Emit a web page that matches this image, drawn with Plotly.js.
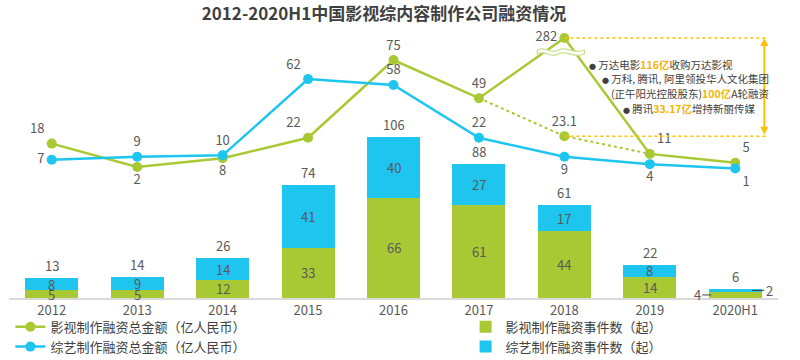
<!DOCTYPE html>
<html><head><meta charset="utf-8">
<script src="https://cdn.plot.ly/plotly-3.0.1.min.js"></script>
<style>html,body{margin:0;padding:0;background:#fff}#chart{width:800px;height:360px}</style>
</head><body><div id="chart"></div>
<script>
const years = ['2012','2013','2014','2015','2016','2017','2018','2019','2020H1'];
const filmCount = [5,5,12,33,66,61,44,14,4];
const varietyCount = [8,9,14,41,40,27,17,8,2];
const filmAmount = [18,2,8,22,75,49,282,11,5];
const varietyAmount = [7,9,10,62,58,22,9,4,1];
const filmAmountExcl = [null,null,null,null,null,49,23.1,11,null];
const breakCap = 90;

const GREEN = '#a9c934', BLUE = '#1ec5ef', GOLD = '#ffc000', TXT = '#595959';
const FONT = '"Noto Sans CJK SC", "Noto Sans", sans-serif';
const xi = years.map((_,i)=>i);
const totals = filmCount.map((v,i)=>v+varietyCount[i]);
const filmDisplay = filmAmount.map(v=>Math.min(v,breakCap));
const i2018 = years.indexOf('2018');

const traces = [
 {type:'bar', name:'影视制作融资事件数（起）', x:xi, y:filmCount, marker:{color:GREEN}, legend:'legend2', legendgroup:'a', hoverinfo:'skip'},
 {type:'bar', name:'综艺制作融资事件数（起）', x:xi, y:varietyCount, marker:{color:BLUE}, legend:'legend2', legendgroup:'b', hoverinfo:'skip'},
 {type:'scatter', mode:'lines', x:xi, y:filmAmountExcl, yaxis:'y2', showlegend:false,
  line:{color:GREEN, width:2, dash:'dot'}, hoverinfo:'skip', connectgaps:false},
 {type:'scatter', mode:'lines+markers+text', name:'影视制作融资总金额（亿人民币）', x:xi, y:filmDisplay, yaxis:'y2', legendgroup:'c',
  text:filmAmount.map(String), textposition:['top left','bottom center','bottom center','top left','top center','top center','middle left','top right','top right'],
  textfont:{color:TXT,size:13,family:FONT}, line:{color:GREEN,width:2.5}, marker:{color:GREEN,size:10}, hoverinfo:'skip', cliponaxis:false},
 {type:'scatter', mode:'markers+text', x:xi, y:filmAmountExcl.map((v,i)=>i===i2018?v:null), yaxis:'y2', showlegend:false,
  text:filmAmountExcl.map((v,i)=>i===i2018?String(v):''), textposition:'top center',
  textfont:{color:TXT,size:13,family:FONT}, marker:{color:GREEN,size:10}, hoverinfo:'skip', cliponaxis:false},
 {type:'scatter', mode:'lines+markers+text', name:'综艺制作融资总金额（亿人民币）', x:xi, y:varietyAmount, yaxis:'y2', legendgroup:'d',
  text:varietyAmount.map(String), textposition:['middle left','top center','top center','top left','top center','top center','bottom center','bottom center','bottom right'],
  textfont:{color:TXT,size:13,family:FONT}, line:{color:BLUE,width:2.5}, marker:{color:BLUE,size:10}, hoverinfo:'skip', cliponaxis:false}
];

const annotations = [];
const last = years.length-1;
xi.forEach((x,i)=>{
  annotations.push({x, y:totals[i], yref:'y', text:String(totals[i]), showarrow:false, yanchor:'bottom', yshift:1, font:{color:TXT,size:13,family:FONT}});
  if(i!==last){
    annotations.push({x, y:filmCount[i]/2, yref:'y', text:String(filmCount[i]), showarrow:false, font:{color:TXT,size:13,family:FONT}});
    annotations.push({x, y:filmCount[i]+varietyCount[i]/2, yref:'y', text:String(varietyCount[i]), showarrow:false, font:{color:TXT,size:13,family:FONT}});
  }
});
annotations.push({x:last, y:filmCount[last]/2, yref:'y', text:String(filmCount[last]), showarrow:true, arrowhead:0, arrowwidth:1, arrowcolor:'#404040', ax:-38, ay:0, standoff:24, font:{color:TXT,size:13,family:FONT}});
annotations.push({x:last, y:filmCount[last]+varietyCount[last]/2, yref:'y', text:String(varietyCount[last]), showarrow:true, arrowhead:0, arrowwidth:1, arrowcolor:'#404040', ax:34, ay:0, standoff:17, font:{color:TXT,size:13,family:FONT}});

// double arrow between 282 (break) and 23.1
annotations.push({x:8.34, y:breakCap, xref:'x', yref:'y2', ax:8.34, ay:filmAmountExcl[i2018], axref:'x', ayref:'y2', showarrow:true, arrowhead:2, startarrowhead:2, arrowside:'end+start', arrowcolor:GOLD, arrowwidth:2, arrowsize:0.8, startarrowsize:0.8, text:''});

const dot = '<span style="font-size:7px;color:#404040">●</span> ';
const hi = s => '<b style="color:#f5b400">'+s+'</b>';
const notes = [
 {x:6.27, y:72.3, t:dot+'万达电影'+hi('116亿')+'收购万达影视'},
 {x:6.42, y:62.1, t:dot+'万科, 腾讯, 阿里领投华人文化集团'},
 {x:6.52, y:52.5, t:'(正午阳光控股股东)'+hi('100亿')+'A轮融资'},
 {x:6.66, y:42.3, t:dot+'腾讯'+hi('33.17亿')+'增持新丽传媒'}
];
notes.forEach(n=>annotations.push({x:n.x, y:n.y, xref:'x', yref:'y2', xanchor:'left', showarrow:false, text:n.t, font:{color:'#404040',size:10.5,family:FONT}}));

const shapes = [
 {type:'line', xref:'x', yref:'y2', x0:i2018, x1:8.37, y0:breakCap, y1:breakCap, line:{color:GOLD,width:1.5,dash:'dot'}},
 {type:'line', xref:'x', yref:'y2', x0:i2018, x1:8.37, y0:filmAmountExcl[i2018], y1:filmAmountExcl[i2018], line:{color:GOLD,width:1.5,dash:'dot'}},
 {type:'path', xref:'x', yref:'y2', xsizemode:'pixel', ysizemode:'pixel', xanchor:i2018, yanchor:breakCap,
  path:'M-27,-12 C-20,-7 -14,-17 -6,-12 C2,-7 8,-17 20,-12 L20,-16 C8,-21 2,-11 -6,-16 C-14,-21 -20,-11 -27,-16 Z',
  fillcolor:'#ffffff', line:{color:'#c8e08c',width:1.2}, layer:'above'}
];

const legFont = {size:13,color:'#404040',family:FONT};
const layout = {
  width:800, height:360,
  margin:{l:9, r:22, t:30, b:62, autoexpand:false},
  paper_bgcolor:'#fff', plot_bgcolor:'#fff',
  font:{family:FONT, color:'#404040'},
  title:{text:'<b>2012-2020H1中国影视综内容制作公司融资情况</b>', x:0.48, xanchor:'center', y:0.961, yanchor:'middle', font:{size:17,color:'#404040',family:FONT}},
  barmode:'stack', bargap:0.38,
  xaxis:{type:'linear', range:[-0.5, years.length-0.5], tickvals:xi, ticktext:years, showgrid:false, zeroline:false, showline:true, linecolor:'#d9d9d9', linewidth:1.5, ticks:'', tickfont:{size:13,color:TXT,family:FONT}, fixedrange:true},
  yaxis:{range:[0,176], visible:false, showgrid:false, zeroline:false, fixedrange:true},
  yaxis2:{range:[-87.3,95.5], overlaying:'y', visible:false, showgrid:false, zeroline:false, fixedrange:true},
  showlegend:true,
  legend:{orientation:'v', traceorder:'normal', xref:'container', yref:'container', x:0.013, xanchor:'left', y:0.134, yanchor:'top', font:legFont, tracegroupgap:3, bgcolor:'rgba(0,0,0,0)'},
  legend2:{orientation:'v', traceorder:'normal', xref:'container', yref:'container', x:0.582, xanchor:'left', y:0.134, yanchor:'top', font:legFont, tracegroupgap:3, bgcolor:'rgba(0,0,0,0)'},
  annotations, shapes
};
Plotly.newPlot('chart', traces, layout, {displayModeBar:false, staticPlot:true});
</script></body></html>
